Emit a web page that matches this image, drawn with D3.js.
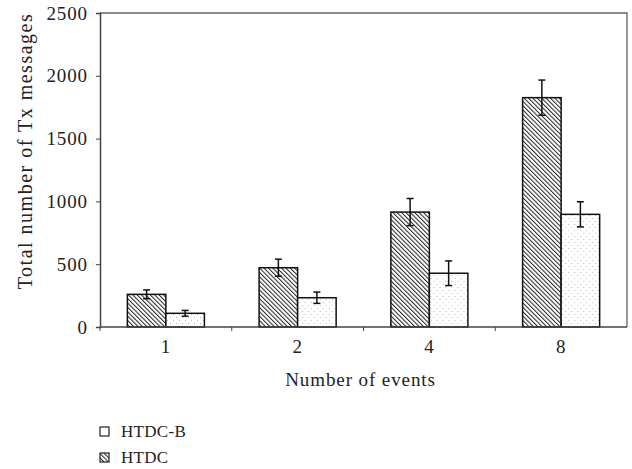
<!DOCTYPE html>
<html>
<head>
<meta charset="utf-8">
<script src="https://d3js.org/d3.v7.min.js"></script>
<style>
    body { margin: 0; background: white; }
    text { font-family: "Liberation Serif", "DejaVu Serif", serif; fill: #222; letter-spacing: 0.9px; }
</style>
</head>
<body>
<svg id="chart" width="632" height="469"></svg>
<script>
    // data
    const events = ["1", "2", "4", "8"];
    const series = ["HTDC", "HTDC-B"];
    const htdc = [260, 472, 915, 1826];
    const htdcErr = [35, 68, 108, 140];
    const htdcB = [109, 233, 428, 897];
    const htdcBErr = [23, 45, 98, 100];
    const yTicks = [0, 500, 1000, 1500, 2000, 2500];

    const svg = d3.select("#chart");
    const margin = { top: 13, right: 5, bottom: 142, left: 100 };
    const plotW = 632 - margin.left - margin.right;
    const plotH = 469 - margin.top - margin.bottom;
    const fs = 19;

    const defs = svg.append("defs");
    // dense diagonal hatch, lines running top-left to bottom-right
    const hatch = defs.append("pattern").attr("id", "hatch")
        .attr("patternUnits", "userSpaceOnUse").attr("width", 3.1).attr("height", 3.1)
        .attr("patternTransform", "rotate(-45)");
    hatch.append("rect").attr("width", 3.1).attr("height", 3.1).attr("fill", "white");
    hatch.append("line").attr("x1", 0).attr("y1", 0).attr("x2", 0).attr("y2", 3.1)
        .attr("stroke", "#222").attr("stroke-width", 2);
    // sparse dots
    const dots = defs.append("pattern").attr("id", "dots")
        .attr("patternUnits", "userSpaceOnUse").attr("width", 6).attr("height", 6);
    dots.append("rect").attr("width", 6).attr("height", 6).attr("fill", "white");
    dots.append("rect").attr("x", 1).attr("y", 1).attr("width", 1).attr("height", 1).attr("fill", "#bbb");
    dots.append("rect").attr("x", 4).attr("y", 4).attr("width", 1).attr("height", 1).attr("fill", "#bbb");

    const fills = { "HTDC": "url(#hatch)", "HTDC-B": "url(#dots)" };

    const g = svg.append("g").attr("transform", `translate(${margin.left},${margin.top})`);

    const x = d3.scaleBand().domain(events).range([0, plotW]).paddingInner(0).paddingOuter(0);
    const xs = d3.scaleBand().domain(series).range([0, x.bandwidth()]).paddingInner(0).paddingOuter(0.71);
    const y = d3.scaleLinear().domain([0, 2500]).range([plotH, 0]);

    // frame (top and right)
    g.append("path").attr("d", `M0,0H${plotW}V${plotH}`).attr("fill", "none")
        .attr("stroke", "#666").attr("stroke-width", 1.3);

    const rows = events.map((e, i) => ({
        event: e,
        vals: [
            { s: "HTDC", v: htdc[i], err: htdcErr[i] },
            { s: "HTDC-B", v: htdcB[i], err: htdcBErr[i] }
        ]
    }));

    const groups = g.selectAll(".grp").data(rows).join("g")
        .attr("class", "grp")
        .attr("transform", d => `translate(${x(d.event)},0)`);

    groups.selectAll("rect").data(d => d.vals).join("rect")
        .attr("x", d => xs(d.s))
        .attr("y", d => y(d.v))
        .attr("width", xs.bandwidth())
        .attr("height", d => plotH - y(d.v))
        .attr("fill", d => fills[d.s])
        .attr("stroke", "#111").attr("stroke-width", 1.5);

    // error bars
    const eb = groups.selectAll(".err").data(d => d.vals).join("g").attr("class", "err")
        .attr("stroke", "#111").attr("stroke-width", 1.5);
    const cx = d => xs(d.s) + xs.bandwidth() / 2;
    eb.append("line")
        .attr("x1", cx).attr("x2", cx)
        .attr("y1", d => y(d.v + d.err)).attr("y2", d => y(d.v - d.err));
    eb.append("line")
        .attr("x1", d => cx(d) - 3.5).attr("x2", d => cx(d) + 3.5)
        .attr("y1", d => y(d.v + d.err)).attr("y2", d => y(d.v + d.err));
    eb.append("line")
        .attr("x1", d => cx(d) - 3.5).attr("x2", d => cx(d) + 3.5)
        .attr("y1", d => y(d.v - d.err)).attr("y2", d => y(d.v - d.err));

    // y axis
    const yAxis = g.append("g").call(d3.axisLeft(y).tickValues(yTicks).tickFormat(d3.format("d"))
        .tickSizeOuter(0).tickSize(4).tickPadding(8));
    yAxis.attr("font-size", fs).attr("font-family", null);
    yAxis.select(".domain").attr("stroke", "#444").attr("stroke-width", 1.5);
    yAxis.selectAll(".tick line").attr("stroke", "#444");
    yAxis.selectAll("text").attr("fill", "#222");

    // x axis with ticks at category boundaries
    const xAxis = g.append("g").attr("transform", `translate(0,${plotH})`);
    xAxis.append("line").attr("x1", 0).attr("x2", plotW).attr("stroke", "#444").attr("stroke-width", 1.5);
    xAxis.selectAll(".bt").data(events).join("line")
        .attr("x1", d => x(d)).attr("x2", d => x(d)).attr("y1", 0).attr("y2", 4)
        .attr("stroke", "#444");
    xAxis.selectAll(".lbl").data(events).join("text")
        .attr("x", d => x(d) + x.bandwidth() / 2).attr("y", 26)
        .attr("text-anchor", "middle").attr("font-size", fs).text(d => d);

    // axis titles
    svg.append("text").attr("x", margin.left + plotW / 2 - 3).attr("y", 386)
        .attr("text-anchor", "middle").attr("font-size", fs).text("Number of events");
    svg.append("text").attr("transform", "translate(32,151) rotate(-90)")
        .attr("text-anchor", "middle").attr("font-size", 20).style("letter-spacing", "1.5px")
        .text("Total number of Tx messages");

    // legend
    const legendItems = ["HTDC-B", "HTDC"];
    const legend = svg.selectAll(".leg").data(legendItems).join("g")
        .attr("transform", (d, i) => `translate(100,${437 + i * 26})`);
    legend.append("rect").attr("x", 0).attr("y", -10).attr("width", 9).attr("height", 9)
        .attr("fill", d => d === "HTDC" ? "url(#hatch)" : "white")
        .attr("stroke", "#222").attr("stroke-width", 1.2);
    legend.append("text").attr("x", 21).attr("y", 0).attr("font-size", 17)
        .style("letter-spacing", "0.3px").text(d => d);
</script>
</body>
</html>
